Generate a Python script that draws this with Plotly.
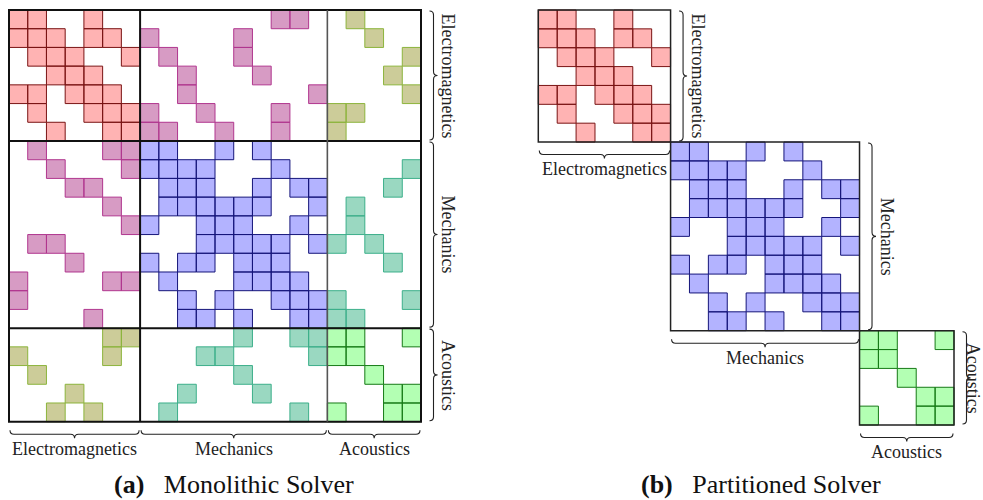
import plotly.graph_objects as go

W, H = 983, 500

# ---- data: sparsity pattern of the coupled system matrix ----
BLOCK_NAMES = ["Electromagnetics", "Mechanics", "Acoustics"]
BLOCK_SIZES = [7, 10, 5]

# non-zero column indices for each matrix row
ROW_COLS = [
    [0, 1, 4, 14, 15, 18],
    [0, 1, 2, 4, 5, 7, 12, 19],
    [1, 2, 3, 6, 8, 12, 21],
    [2, 3, 4, 9, 13, 20],
    [0, 1, 3, 4, 5, 9, 16, 21],
    [1, 4, 5, 6, 7, 10, 14, 17, 18],
    [2, 5, 6, 7, 8, 11, 14, 17],
    [1, 5, 6, 7, 8, 11, 13],
    [2, 6, 7, 8, 9, 10, 14, 21],
    [3, 4, 8, 9, 10, 13, 15, 16, 20],
    [5, 8, 9, 10, 11, 12, 13, 16, 18],
    [6, 7, 10, 11, 12, 15, 18],
    [1, 2, 10, 11, 12, 13, 14, 16, 17, 19],
    [3, 7, 9, 10, 12, 13, 14, 20],
    [0, 5, 6, 8, 12, 13, 14, 15],
    [0, 9, 11, 14, 15, 16, 17, 21],
    [4, 9, 10, 12, 15, 16, 17, 18],
    [5, 6, 12, 15, 16, 17, 18, 21],
    [0, 5, 10, 11, 16, 17, 18],
    [1, 12, 19],
    [3, 9, 13, 20, 21],
    [2, 4, 8, 15, 17, 20, 21],
]

CAPTIONS = ["<b>(a)</b>   Monolithic Solver", "<b>(b)</b>   Partitioned Solver"]

# ---- styling ----
FILL = {(0, 0): "#ffb3b3", (1, 1): "#b3b3ff", (2, 2): "#b3ffb3",
        (0, 1): "#d79bc4", (0, 2): "#cccc99", (1, 2): "#9ad8c1"}
EDGE = {(0, 0): "#7a1414", (1, 1): "#15157a", (2, 2): "#167a16",
        (0, 1): "#b0368e", (0, 2): "#8cb43c", (1, 2): "#3caf8a"}
SERIF = "'Liberation Serif', 'DejaVu Serif', serif"
TXT = "#222222"

N = sum(BLOCK_SIZES)
STARTS = [sum(BLOCK_SIZES[:k]) for k in range(len(BLOCK_SIZES))]
ENDS = [s + n for s, n in zip(STARTS, BLOCK_SIZES)]


def block_of(i):
    for k, (s, e) in enumerate(zip(STARTS, ENDS)):
        if s <= i < e:
            return k


# panel geometry: pixel origin of cell (0, 0) and cell size
PANELS = [
    dict(xa="x", ya="y", dom=(0.0, 0.5), ox=9.0, oy=10.0, cw=412 / 22, ch=411.7 / 22, full=True),
    dict(xa="x2", ya="y2", dom=(0.5, 1.0), ox=538.3, oy=10.0, cw=415.7 / 22, ch=415 / 22, full=False),
]

fig = go.Figure()
shapes, annotations = [], []


def cell_trace(cells, key, p):
    xs, ys = [], []
    for r, c in cells:
        xs += [c, c + 1, c + 1, c, c, None]
        ys += [r, r, r + 1, r + 1, r, None]
    return go.Scatter(x=xs, y=ys, xaxis=p["xa"], yaxis=p["ya"], mode="lines",
                      fill="toself", fillcolor=FILL[key],
                      line=dict(color=EDGE[key], width=1), hoverinfo="skip")


def brace(a, b, n0, side, p, base_px=8.5, depth_px=8.0, rad_px=4.0):
    """Curly brace along [a, b]; n0 is the matrix edge it sits next to."""
    if side == "bottom":
        un, ut = p["ch"], p["cw"]
    else:
        un, ut = p["cw"], p["ch"]
    n0 = n0 + base_px / un
    h = depth_px / un
    e = rad_px / ut
    a, b = a + 1.0 / ut, b - 1.0 / ut
    m = (a + b) / 2
    pts = [("M", [(a, n0)]),
           ("Q", [(a, n0 + h / 2), (a + e, n0 + h / 2)]),
           ("L", [(m - e, n0 + h / 2)]),
           ("Q", [(m, n0 + h / 2), (m, n0 + h)]),
           ("Q", [(m, n0 + h / 2), (m + e, n0 + h / 2)]),
           ("L", [(b - e, n0 + h / 2)]),
           ("Q", [(b, n0 + h / 2), (b, n0)])]
    parts = []
    for cmd, coords in pts:
        cs = []
        for t, n in coords:
            x, y = (t, n) if side == "bottom" else (n, t)
            cs.append(f"{x:.4f},{y:.4f}")
        parts.append(cmd + " " + " ".join(cs))
    return dict(type="path", path=" ".join(parts), xref=p["xa"], yref=p["ya"],
                line=dict(color=TXT, width=1.1), layer="above")


def label(text, p, k, side, off_px=27):
    mid = (STARTS[k] + ENDS[k]) / 2
    edge = N if p["full"] else ENDS[k]
    if side == "bottom":
        return dict(text=text, x=mid, y=edge, xref=p["xa"], yref=p["ya"],
                    yshift=-off_px, showarrow=False,
                    font=dict(family=SERIF, size=18, color=TXT))
    return dict(text=text, x=edge, y=mid, xref=p["xa"], yref=p["ya"],
                xshift=off_px, textangle=90, showarrow=False,
                font=dict(family=SERIF, size=18, color=TXT))


for p in PANELS:
    groups = {}
    for r, cols in enumerate(ROW_COLS):
        for c in cols:
            br, bc = block_of(r), block_of(c)
            if not p["full"] and br != bc:
                continue
            key = tuple(sorted((br, bc)))
            groups.setdefault(key, []).append((r, c))
    for key in sorted(groups):
        fig.add_trace(cell_trace(groups[key], key, p))

    ref = dict(xref=p["xa"], yref=p["ya"], layer="above")
    if p["full"]:
        shapes.append(dict(type="rect", x0=0, x1=N, y0=0, y1=N,
                           line=dict(color="#111", width=2), **ref))
        for k, s in enumerate(STARTS[1:], start=1):
            col = "#111" if k == 1 else "#555"
            shapes.append(dict(type="line", x0=s, x1=s, y0=0, y1=N,
                               line=dict(color=col, width=2 if k == 1 else 1.6), **ref))
            shapes.append(dict(type="line", x0=0, x1=N, y0=s, y1=s,
                               line=dict(color="#111", width=2), **ref))
    else:
        for s, e in zip(STARTS, ENDS):
            shapes.append(dict(type="rect", x0=s, x1=e, y0=s, y1=e,
                               line=dict(color="#222", width=1.5), **ref))

    for k, name in enumerate(BLOCK_NAMES):
        edge = N if p["full"] else ENDS[k]
        shapes.append(brace(STARTS[k], ENDS[k], edge, "bottom", p))
        shapes.append(brace(STARTS[k], ENDS[k], edge, "right", p))
        annotations.append(label(name, p, k, "bottom"))
        # the last block's side label sits against the right page edge
        side_off = 19 if (not p["full"] and k == len(BLOCK_NAMES) - 1) else 27
        annotations.append(label(name, p, k, "right", off_px=side_off))

# sub-figure captions
for cap, xc in zip(CAPTIONS, [234, 761]):
    annotations.append(dict(text=cap, x=xc / W, y=1 - 484 / H, xref="paper", yref="paper",
                            showarrow=False, xanchor="center", yanchor="middle",
                            font=dict(family=SERIF, size=26, color="#111")))

layout_axes = {}
for i, p in enumerate(PANELS):
    sfx = "" if i == 0 else str(i + 1)
    d0, d1 = p["dom"]
    layout_axes["xaxis" + sfx] = dict(domain=[d0, d1], visible=False, fixedrange=True,
                                      range=[(d0 * W - p["ox"]) / p["cw"], (d1 * W - p["ox"]) / p["cw"]])
    layout_axes["yaxis" + sfx] = dict(domain=[0, 1], visible=False, fixedrange=True,
                                      range=[(H - p["oy"]) / p["ch"], -p["oy"] / p["ch"]])

fig.update_layout(width=W, height=H, margin=dict(l=0, r=0, t=0, b=0),
                  paper_bgcolor="white", plot_bgcolor="white", showlegend=False,
                  shapes=shapes, annotations=annotations, **layout_axes)

fig.write_html("out.html")
